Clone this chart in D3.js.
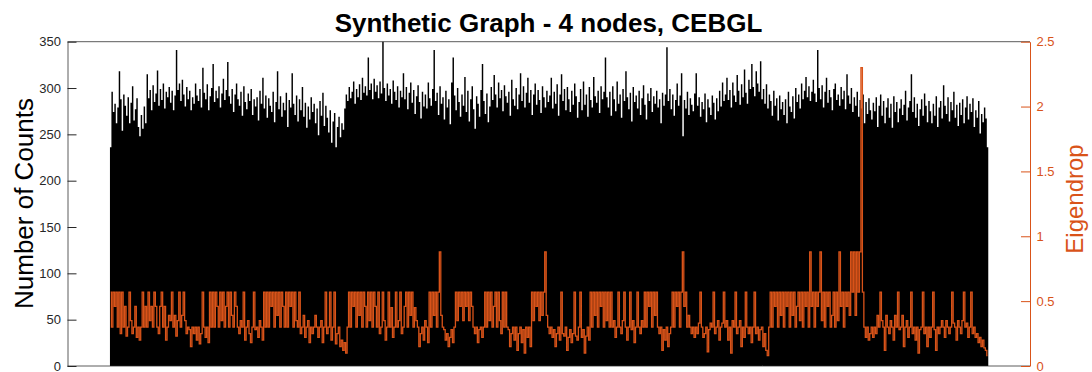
<!DOCTYPE html>
<html>
<head>
<meta charset="utf-8">
<script src="https://cdn.jsdelivr.net/npm/d3@7"></script>
<style>
  html, body { margin: 0; padding: 0; background: #fff; }
  svg { display: block; }
  text { font-family: "Liberation Sans", Arial, Helvetica, sans-serif; }
</style>
</head>
<body>
<svg id="chart" width="1092" height="372"></svg>
<script>
// ---- data ----
const counts = [
236,296,274,283,262,279,318,288,254,293,281,270,290,262,284,302,265,277,289,258,
248,271,256,280,262,315,289,298,276,303,285,294,319,281,299,287,305,278,296,290,
301,284,297,276,292,341,298,305,286,309,293,280,301,288,297,276,290,283,305,292,
286,299,279,322,295,288,304,276,291,300,326,285,297,289,302,279,294,310,287,298,
328,291,283,299,274,293,305,288,281,296,270,302,285,277,294,286,299,271,288,280,
290,265,297,283,311,278,292,268,289,281,274,296,263,285,318,277,291,269,284,276,
295,258,287,279,316,283,271,292,264,288,276,301,269,284,257,280,266,290,274,283,
262,278,249,286,270,295,259,281,268,252,276,241,264,273,236,258,269,247,262,255,
278,293,286,301,289,296,307,283,299,290,304,287,311,295,302,292,333,298,305,288,
310,296,303,289,307,294,351,300,286,305,292,299,283,308,296,287,302,279,297,290,
316,288,301,277,295,306,284,298,272,291,303,285,267,296,280,293,278,306,289,281,
299,341,286,295,271,302,283,290,266,297,279,288,261,306,333,292,276,300,285,269,
293,281,312,274,297,264,288,302,277,256,291,283,269,298,326,286,272,294,263,280,
301,287,314,293,279,306,289,298,275,303,291,284,296,270,309,288,281,300,277,293,
316,286,302,279,295,311,284,298,271,293,305,282,298,287,273,302,290,279,297,285,
292,311,278,296,283,304,270,293,315,286,299,276,301,288,274,297,282,305,291,268,
285,299,276,307,282,293,269,301,287,279,312,291,284,297,273,302,288,296,333,290,
279,296,270,302,288,275,307,283,293,268,299,286,318,290,277,295,264,301,285,292,
278,297,271,289,303,282,266,294,286,300,274,291,283,297,279,288,262,295,281,293,
344,286,299,277,293,270,287,305,281,292,316,248,287,278,296,271,289,282,275,294,
316,281,290,269,285,277,294,263,288,279,271,292,284,266,289,275,297,280,306,286,
293,311,287,298,279,306,292,285,314,297,282,304,290,320,295,283,309,299,326,301,
291,318,305,296,329,288,299,283,304,278,293,286,270,297,281,289,265,292,277,285,
271,288,262,296,280,274,291,267,300,285,293,278,305,288,297,312,290,302,286,296,
309,294,285,341,300,288,303,279,296,311,284,298,290,276,299,305,287,293,281,301,
288,297,277,315,292,283,300,274,290,281,296,269,287,278,293,262,285,272,289,276,
266,284,275,290,258,281,293,270,286,262,279,289,268,283,257,291,274,285,263,278,
288,271,282,297,265,279,286,315,274,290,268,283,259,277,288,270,294,281,263,286,
275,262,283,270,291,258,279,286,267,303,281,272,290,264,285,276,296,268,282,259,
284,271,288,262,279,291,266,283,274,289,258,276,268,286,251,272,263,279,267,236
];

const eigendrop = [
.57,.30,.57,.46,.57,.30,.57,.25,.57,.30,.46,.23,.30,.57,.35,.25,.30,.46,.22,.30,
.20,.30,.57,.30,.46,.30,.57,.35,.46,.30,.57,.46,.30,.25,.46,.57,.30,.46,.20,.30,
.39,.35,.57,.30,.39,.23,.35,.57,.30,.39,.57,.35,.25,.30,.28,.15,.30,.25,.30,.20,
.30,.17,.25,.57,.30,.22,.30,.18,.57,.30,.57,.30,.57,.46,.30,.57,.35,.57,.30,.46,
.57,.30,.57,.39,.30,.57,.46,.30,.25,.35,.30,.57,.20,.30,.35,.25,.18,.30,.57,.28,
.30,.22,.35,.30,.20,.57,.30,.57,.30,.57,.46,.57,.30,.57,.39,.57,.30,.57,.46,.30,
.57,.30,.57,.46,.57,.30,.57,.35,.30,.57,.25,.30,.39,.22,.30,.35,.18,.30,.25,.30,
.39,.30,.22,.30,.35,.18,.30,.57,.25,.30,.57,.20,.30,.57,.17,.25,.30,.15,.20,.12,
.18,.10,.30,.57,.30,.57,.46,.57,.30,.57,.39,.57,.30,.57,.46,.30,.57,.35,.57,.30,
.57,.46,.30,.57,.25,.30,.57,.35,.20,.30,.57,.30,.45,.22,.30,.57,.30,.35,.57,.25,
.30,.46,.57,.30,.57,.39,.57,.30,.45,.35,.30,.15,.25,.30,.20,.35,.30,.18,.57,.30,
.57,.39,.57,.30,.57,.88,.39,.30,.28,.20,.25,.15,.22,.28,.18,.30,.57,.35,.57,.46,
.57,.35,.57,.46,.57,.35,.57,.46,.30,.25,.30,.18,.28,.30,.22,.30,.57,.30,.57,.35,
.57,.30,.46,.57,.30,.57,.35,.25,.57,.30,.57,.30,.28,.15,.25,.30,.20,.30,.12,.25,
.30,.18,.28,.10,.30,.22,.30,.15,.57,.35,.57,.46,.57,.35,.57,.39,.57,.88,.39,.30,
.25,.30,.22,.28,.15,.25,.30,.20,.57,.25,.23,.30,.12,.22,.28,.18,.25,.57,.23,.20,
.30,.57,.22,.28,.10,.23,.30,.20,.57,.30,.57,.39,.57,.30,.57,.46,.57,.30,.57,.35,
.57,.30,.57,.30,.35,.22,.30,.57,.30,.25,.35,.57,.30,.20,.30,.57,.28,.35,.18,.30,
.57,.30,.25,.35,.30,.57,.30,.57,.46,.57,.30,.57,.39,.57,.30,.25,.30,.12,.28,.20,
.30,.15,.25,.30,.57,.30,.57,.46,.57,.30,.57,.88,.46,.57,.30,.39,.30,.25,.30,.22,
.30,.25,.33,.57,.30,.22,.25,.30,.11,.28,.33,.30,.57,.25,.30,.35,.20,.30,.33,.57,
.30,.35,.20,.30,.10,.35,.30,.57,.25,.30,.35,.15,.30,.22,.57,.30,.25,.30,.18,.30,
.57,.25,.30,.20,.28,.30,.15,.25,.12,.08,.30,.57,.30,.57,.46,.57,.30,.57,.39,.57,
.30,.57,.46,.57,.30,.57,.39,.57,.30,.46,.57,.35,.57,.30,.57,.46,.57,.30,.88,.46,
.57,.30,.57,.46,.57,.88,.35,.57,.30,.57,.46,.57,.30,.39,.57,.30,.57,.35,.88,.46,
.57,.30,.57,.46,.57,.39,.88,.57,.88,.39,.88,.57,.88,2.30,.57,.30,.22,.30,.20,.25,
.30,.22,.30,.25,.39,.30,.57,.35,.30,.12,.39,.30,.25,.35,.30,.20,.39,.30,.57,.28,
.30,.39,.15,.30,.35,.22,.30,.57,.25,.30,.20,.30,.10,.28,.30,.57,.25,.30,.15,.30,
.22,.30,.57,.28,.12,.30,.25,.30,.35,.30,.22,.35,.30,.25,.30,.57,.33,.30,.20,.35,
.30,.25,.35,.57,.30,.33,.22,.30,.57,.25,.30,.22,.25,.18,.22,.15,.20,.14,.12,.08
];

const leftTicks = [0, 50, 100, 150, 200, 250, 300, 350];
const rightTicks = [0, 0.5, 1, 1.5, 2, 2.5];
const titleText = "Synthetic Graph - 4 nodes, CEBGL";
const leftLabel = "Number of Counts";
const rightLabel = "Eigendrop";

// ---- layout ----
const plot = { left: 67.5, right: 1030, top: 41.7, bottom: 366 };
const orange = "#D95319";
const axisGrey = "#262626";

const svg = d3.select("#chart");

const N = counts.length;
const x = d3.scaleLinear().domain([-29, N + 28.5]).range([plot.left, plot.right]);
const yL = d3.scaleLinear().domain([0, 350]).range([plot.bottom, plot.top]);
const yR = d3.scaleLinear().domain([0, 2.5]).range([plot.bottom, plot.top]);

svg.append("defs").append("clipPath").attr("id", "clip")
  .append("rect").attr("x", plot.left).attr("y", plot.top)
  .attr("width", plot.right - plot.left).attr("height", plot.bottom - plot.top);

const g = svg.append("g").attr("clip-path", "url(#clip)");

// bars as one path (no seams between neighbouring bars)
const barPath = d3.path();
counts.forEach((d, i) => {
  barPath.rect(x(i), yL(d), x(i + 1) - x(i), yL(0) - yL(d));
});
g.append("path").attr("d", barPath.toString()).attr("fill", "#000");

// eigendrop line (stairs)
const line = d3.line().x((d, i) => x(i + 0.5)).y(d => yR(d)).curve(d3.curveStep);
g.append("path").datum(eigendrop)
  .attr("d", line)
  .attr("fill", "none")
  .attr("stroke", orange)
  .attr("stroke-width", 1.3);

// box top & bottom
svg.append("line").attr("x1", plot.left).attr("x2", plot.right)
  .attr("y1", plot.top).attr("y2", plot.top)
  .attr("stroke", axisGrey).attr("stroke-opacity", 0.75).attr("stroke-width", 1);
svg.append("line").attr("x1", plot.left).attr("x2", plot.right)
  .attr("y1", plot.bottom).attr("y2", plot.bottom)
  .attr("stroke", axisGrey).attr("stroke-opacity", 0.75).attr("stroke-width", 1);

// left axis
const leftAxis = d3.axisLeft(yL).tickValues(leftTicks).tickSizeInner(-9).tickSizeOuter(0).tickPadding(6.5)
  .tickFormat(d3.format("d"));
const la = svg.append("g").attr("transform", `translate(${plot.left},0)`).call(leftAxis);
la.select(".domain").attr("stroke", axisGrey).attr("stroke-opacity", 0.75);
la.selectAll(".tick line").attr("stroke", axisGrey);
la.selectAll(".tick text").attr("fill", axisGrey).style("font-size", "13px")
  .style("font-family", "'Liberation Sans', Arial, sans-serif");

// right axis
const rightAxis = d3.axisRight(yR).tickValues(rightTicks).tickSizeInner(-9).tickSizeOuter(0).tickPadding(6.5)
  .tickFormat(d => d3.format("")(d));
const ra = svg.append("g").attr("transform", `translate(${plot.right},0)`).call(rightAxis);
ra.select(".domain").attr("stroke", orange);
ra.selectAll(".tick line").attr("stroke", orange);
ra.selectAll(".tick text").attr("fill", orange).style("font-size", "13px")
  .style("font-family", "'Liberation Sans', Arial, sans-serif");

// title
svg.append("text").attr("x", 548.5).attr("y", 31.5)
  .attr("text-anchor", "middle").attr("font-weight", "bold")
  .style("font-size", "26px").attr("fill", "#000").text(titleText);

// left label
svg.append("text").attr("transform", `translate(32.5,203.5) rotate(-90)`)
  .attr("text-anchor", "middle").style("font-size", "26px").attr("fill", "#000").text(leftLabel);

// right label
svg.append("text").attr("transform", `translate(1083,199) rotate(-90)`)
  .attr("text-anchor", "middle").style("font-size", "24px").attr("fill", orange).text(rightLabel);
</script>
</body>
</html>
